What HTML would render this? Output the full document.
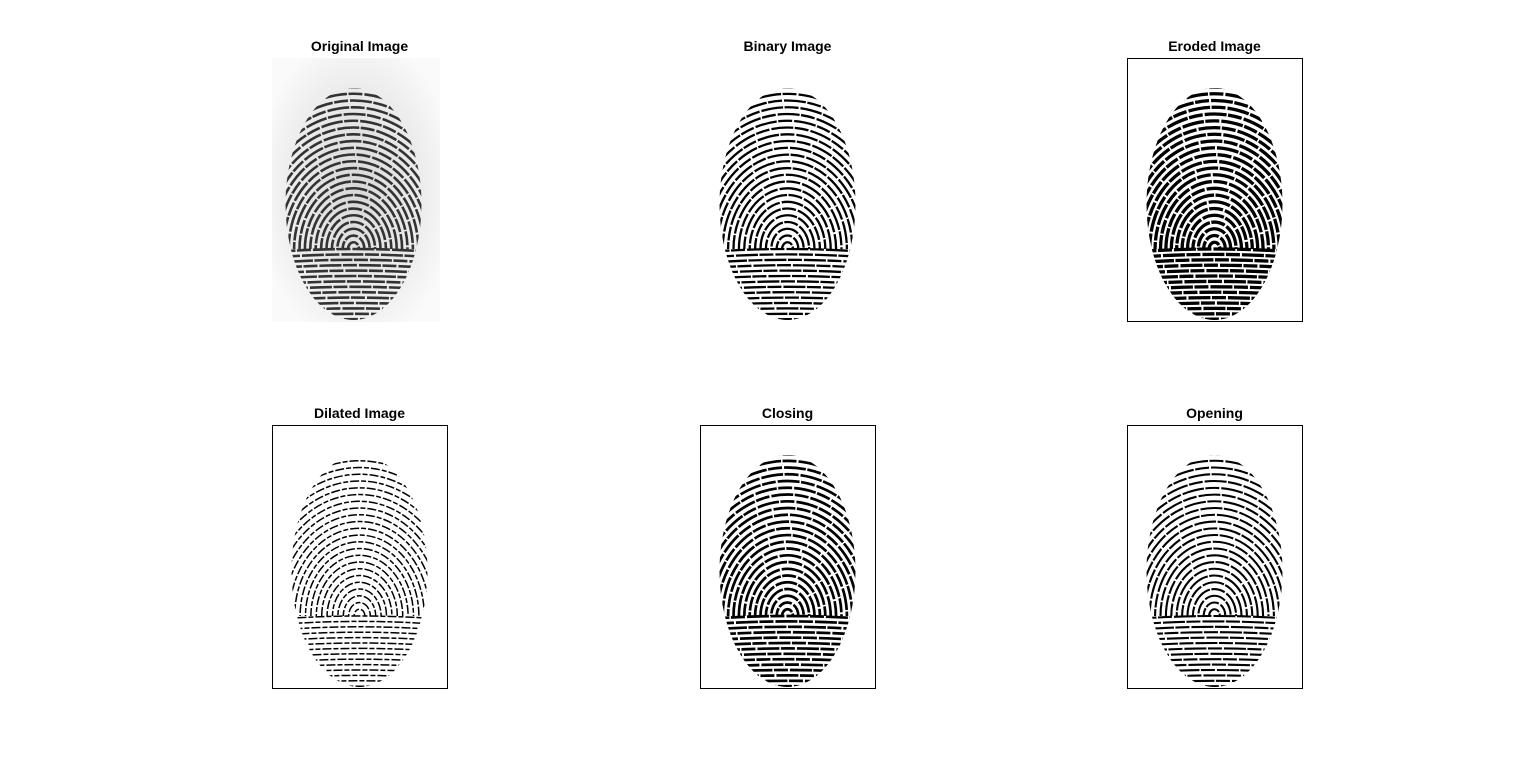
<!DOCTYPE html>
<html><head><meta charset="utf-8"><style>
body{margin:0;background:#fff;width:1522px;height:774px;overflow:hidden;font-family:"Liberation Sans",sans-serif}
svg{position:absolute;left:0;top:0}
</style></head><body>
<svg id="fig" width="1522" height="774" xmlns="http://www.w3.org/2000/svg">
<rect width="1522" height="774" fill="#fff"/>
<defs>
<radialGradient id="bgGrad" cx="0.5" cy="0.5" r="0.6">
<stop offset="0" stop-color="#d8d8d8"/><stop offset="0.7" stop-color="#eeeeee"/><stop offset="1" stop-color="#fafafa"/>
</radialGradient>
</defs>
</svg>
<script>
const panelTitles=["Original Image","Binary Image","Eroded Image","Dilated Image","Closing","Opening"];
const panelLeft=[272,700,1127,272,700,1127];
const panelTop=[58,58,58,425,425,425];
const panelBorder=[false,false,true,true,true,true];
const ridgeWidth=[2.6,2.3,3.3,1.5,2.7,2.1];
const ridgeColor=["#333","#000","#000","#000","#000","#000"];
const svg=document.getElementById('fig');
const NS="http://www.w3.org/2000/svg";
function mk(t,a){const e=document.createElementNS(NS,t);for(const k in a)e.setAttribute(k,a[k]);return e;}
for(let p=0;p<6;p++){
  const x=panelLeft[p],y=panelTop[p],w=175,h=264,cx=x+w/2;
  const g=mk('g',{});
  
  
  svg.appendChild(g);
  const t=mk('text',{x:cx,y:y-7,'text-anchor':'middle','font-size':'14','font-weight':'bold',fill:'#000'});
  t.textContent=panelTitles[p];
  
  
  g.appendChild(t);
  if(p===0){
    const bg=mk('rect',{x:x,y:y,width:168,height:264,fill:'url(#bgGrad)'});
    
    
    g.appendChild(bg);
  }
  const cid='clip'+p;
  const cp=mk('clipPath',{id:cid});
  const ocx=cx-(p===0?6:0), ocy=y+146, orx=68, ory=116;
  cp.appendChild(mk('ellipse',{cx:ocx,cy:ocy,rx:orx,ry:ory}));
  svg.querySelector('defs').appendChild(cp);
  const rg=mk('g',{'clip-path':'url(#'+cid+')',fill:'none',stroke:ridgeColor[p],'stroke-width':ridgeWidth[p],'stroke-dasharray':p===3?'9 2 5 2':'22 1.5 14 2'});
  
  
  g.appendChild(rg);
  const sp=5.4;
  for(let i=1;i<40;i++){
    const r=i*sp;
    rg.appendChild(mk('path',{d:`M ${ocx-r} ${ocy+45} A ${r} ${r*1.25} 0 0 1 ${ocx+r} ${ocy+45}`,'stroke-dashoffset':(i*7)%31}));
  }
  for(let k=0;k<20;k++){
    const yy=ocy+45+k*sp;
    rg.appendChild(mk('path',{d:`M ${ocx-80} ${yy+3} Q ${ocx} ${yy-3} ${ocx+80} ${yy+3}`,'stroke-dashoffset':(k*11)%37}));
  }
  if(panelBorder[p]){
    const b=mk('rect',{x:x+0.5,y:y+0.5,width:w,height:h-1,fill:'none',stroke:'#000','stroke-width':1});
    
    
    g.appendChild(b);
  }
}
</script>
</body></html>
